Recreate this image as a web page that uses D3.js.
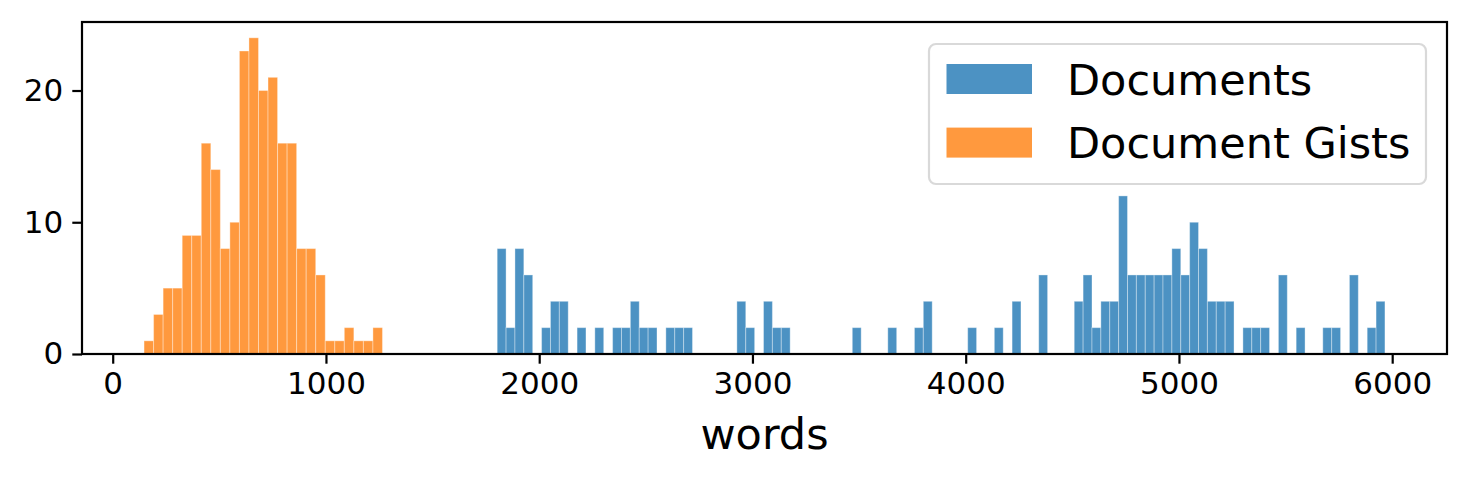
<!DOCTYPE html>
<html>
<head>
<meta charset="utf-8">
<script src="https://cdn.jsdelivr.net/npm/d3@7"></script>
<style>
  body { margin: 0; background: #fff; }
  svg { display: block; font-family: "DejaVu Sans", sans-serif; }
</style>
</head>
<body>
<div id="container"></div>
<script>
/* DATA */
// Documents: 100 bins between docStart and docEnd (words)
const docStart = 1803, docEnd = 5966;
const docCounts = [
  8, 2, 8, 6, 0, 2, 4, 4, 0, 2,
  0, 2, 0, 2, 2, 4, 2, 2, 0, 2,
  2, 2, 0, 0, 0, 0, 0, 4, 2, 0,
  4, 2, 2, 0, 0, 0, 0, 0, 0, 0,
  2, 0, 0, 0, 2, 0, 0, 2, 4, 0,
  0, 0, 0, 2, 0, 0, 2, 0, 4, 0,
  0, 6, 0, 0, 0, 4, 6, 2, 4, 4,
  12, 6, 6, 6, 6, 6, 8, 6, 10, 8,
  4, 4, 4, 0, 2, 2, 2, 0, 6, 0,
  2, 0, 0, 2, 2, 0, 6, 0, 2, 4
];
// Document Gists: 25 bins between gistStart and gistEnd
const gistStart = 147, gistEnd = 1265;
const gistCounts = [
  1, 3, 5, 5, 9, 9, 16, 14, 8, 10,
  23, 24, 20, 21, 16, 16, 8, 8, 6, 1,
  1, 2, 1, 1, 2
];
const xTicks = [0, 1000, 2000, 3000, 4000, 5000, 6000];
const yTicks = [0, 10, 20];
const seriesNames = ["Documents", "Document Gists"];
const seriesColors = ["#4c92c3", "#ff993e"];

/* CONSTANTS */
const width = 1469, height = 481;
const margin = { top: 22, bottom: 127, left: 82, right: 22 };
const tickFont = 31, bigFont = 43;

// turn counts into bin objects
function toBins(counts, start, end) {
  const w = (end - start) / counts.length;
  return counts.map((c, i) => ({ x0: start + i * w, x1: start + (i + 1) * w, count: c }))
    .filter(d => d.count > 0);
}
const docBins = toBins(docCounts, docStart, docEnd);
const gistBins = toBins(gistCounts, gistStart, gistEnd);

/* SCALES */
const xScale = d3.scaleLinear()
  .domain([-144, 6257])
  .range([margin.left, width - margin.right]);

const yScale = d3.scaleLinear()
  .domain([0, 25.2])
  .range([height - margin.bottom, margin.top]);

/* SVG */
const svg = d3.select("#container")
  .append("svg")
  .attr("width", width)
  .attr("height", height);

// bars
[docBins, gistBins].forEach((bins, k) => {
  svg.append("g")
    .selectAll("rect")
    .data(bins)
    .join("rect")
    .attr("x", d => xScale(d.x0))
    .attr("width", d => xScale(d.x1) - xScale(d.x0))
    .attr("y", d => yScale(d.count))
    .attr("height", d => yScale(0) - yScale(d.count))
    .attr("fill", seriesColors[k])
    .attr("stroke", "#fff")
    .attr("stroke-opacity", 0.35)
    .attr("stroke-width", 1);
});

// axes
const xAxis = d3.axisBottom(xScale)
  .tickValues(xTicks)
  .tickSize(9.7)
  .tickPadding(8)
  .tickFormat(d3.format("d"));
const gx = svg.append("g")
  .attr("transform", `translate(0,${height - margin.bottom})`)
  .call(xAxis);

const yAxis = d3.axisLeft(yScale)
  .tickValues(yTicks)
  .tickSize(9.7)
  .tickPadding(9)
  .tickFormat(d3.format("d"));
const gy = svg.append("g")
  .attr("transform", `translate(${margin.left},0)`)
  .call(yAxis);

[gx, gy].forEach(g => {
  g.select(".domain").remove();
  g.selectAll(".tick line").attr("stroke", "#000").attr("stroke-width", 2.2);
  g.selectAll(".tick text")
    .attr("fill", "#000")
    .style("font-size", tickFont + "px")
    .style("font-family", "DejaVu Sans, sans-serif");
});

// frame
svg.append("rect")
  .attr("x", margin.left)
  .attr("y", margin.top)
  .attr("width", width - margin.left - margin.right)
  .attr("height", height - margin.top - margin.bottom)
  .attr("fill", "none")
  .attr("stroke", "#000")
  .attr("stroke-width", 2.2);

// x label
svg.append("text")
  .attr("x", (margin.left + width - margin.right) / 2)
  .attr("y", 449)
  .attr("text-anchor", "middle")
  .style("font-size", bigFont + "px")
  .text("words");

/* LEGEND */
const legend = svg.append("g").attr("transform", "translate(929,44)");
legend.append("rect")
  .attr("width", 497)
  .attr("height", 140)
  .attr("rx", 7)
  .attr("fill", "#fff")
  .attr("fill-opacity", 0.8)
  .attr("stroke", "#d9d9d9")
  .attr("stroke-width", 2.2);

const item = legend.selectAll("g.item")
  .data(seriesNames)
  .join("g")
  .attr("class", "item")
  .attr("transform", (d, i) => `translate(0,${i * 63.6})`);
item.append("rect")
  .attr("x", 17.5)
  .attr("y", 20)
  .attr("width", 85.5)
  .attr("height", 30)
  .attr("fill", (d, i) => seriesColors[i]);
item.append("text")
  .attr("x", 138)
  .attr("y", 50.5)
  .style("font-size", bigFont + "px")
  .text(d => d);
</script>
</body>
</html>
